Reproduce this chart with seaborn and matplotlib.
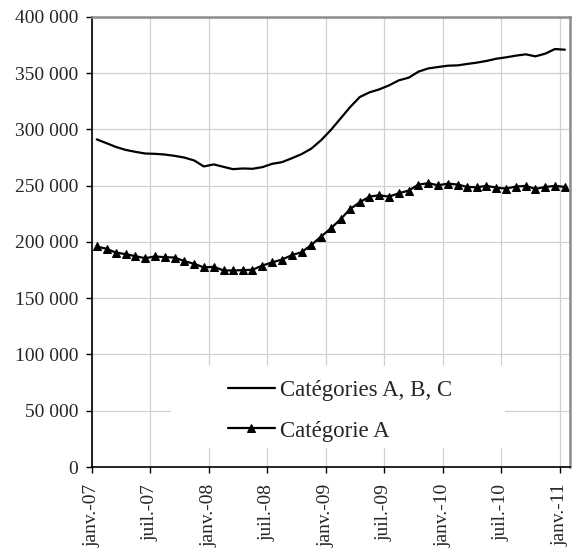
import numpy as np
import pandas as pd
import seaborn as sns
import matplotlib.pyplot as plt
import matplotlib.dates as mdates
from matplotlib.patches import Rectangle

# monthly values, janv. 2007 -> janv. 2011
abc = [291000, 287600, 284400, 281700, 280000, 278500, 278200, 277600, 276400, 274900,
       272300, 267000, 268800, 266600, 264600, 265200, 264900, 266400, 269300, 270800,
       274300, 277900, 282900, 290300, 299500, 310000, 319500, 328700, 332800, 335500,
       339000, 343500, 345900, 351200, 354100, 355300, 356500, 356800, 358000, 359200,
       360700, 362700, 363900, 365400, 366600, 364800, 367200, 371300, 370700]
cat_a = [195900, 193800, 190500, 189100, 187300, 185500, 187000, 186400, 186100, 182900,
         180500, 177300, 177800, 174600, 174600, 174900, 175200, 179000, 181700, 184300,
         188200, 190800, 197300, 204700, 212100, 220400, 229000, 235200, 240200, 241400,
         240200, 243200, 245600, 250900, 252100, 250300, 251700, 250900, 248800, 248500,
         249700, 248200, 247300, 249100, 249700, 247000, 248800, 249700, 248800]
labels = ["Catégories A, B, C", "Catégorie A"]
tick_labels = ["janv.-07", "juil.-07", "janv.-08", "juil.-08", "janv.-09",
               "juil.-09", "janv.-10", "juil.-10", "janv.-11"]
y_ticks = [0, 50000, 100000, 150000, 200000, 250000, 300000, 350000, 400000]

# points sit in the middle of each month (Excel date axis)
months = pd.date_range("2007-01-01", periods=len(abc), freq="MS")
dates = months + pd.Timedelta(days=15)

sns.set_style("white")
plt.rcParams['font.family'] = ['Liberation Serif', 'DejaVu Serif']
plt.rcParams['font.size'] = 14

fig = plt.figure(figsize=(5.72, 5.5), dpi=100)
ax = fig.add_axes([0.1608, 0.1509, 0.8357, 0.8187])

sns.lineplot(x=dates, y=abc, ax=ax, color='black', lw=1.6, label=labels[0])
sns.lineplot(x=dates, y=cat_a, ax=ax, color='black', lw=1.6, marker='^',
             markersize=5.5, markeredgecolor='black', label=labels[1])

ax.set_ylim(0, 400000)
ax.set_yticks(y_ticks)
ax.set_yticklabels([f"{v:,.0f}".replace(",", " ") for v in y_ticks])

tick_dates = pd.date_range("2007-01-01", periods=len(tick_labels), freq="6MS")
ax.set_xlim(mdates.date2num(months[0]), mdates.date2num(pd.Timestamp("2011-02-01")))
ax.set_xticks(mdates.date2num(tick_dates))
ax.set_xticklabels(tick_labels, rotation=90, va='top', ha='center')

ax.grid(True, color='#d0d0d0', lw=0.9)
ax.set_axisbelow(True)
ax.tick_params(axis='both', direction='out', length=4, width=1, color='black',
               labelsize=14, left=True, bottom=True)
ax.tick_params(axis='y', pad=6)
ax.tick_params(axis='x', pad=8)

for s in ['left', 'bottom']:
    ax.spines[s].set_color('black')
    ax.spines[s].set_linewidth(1.2)
for s in ['top', 'right']:
    ax.spines[s].set_color('#8c8c8c')
    ax.spines[s].set_linewidth(1.8)

# white legend background hiding the grid
ax.add_patch(Rectangle((0.165, 0.042), 0.699, 0.182, transform=ax.transAxes,
                       facecolor='white', edgecolor='none', zorder=1))
ax.legend(loc='center left', bbox_to_anchor=(0.284, 0.125), frameon=False,
          handlelength=2.05, handletextpad=0.25, labelspacing=0.85,
          borderpad=0, borderaxespad=0, fontsize=16.5)

ax.set_xlabel("")
ax.set_ylabel("")
fig.savefig("out.png", dpi=100)
